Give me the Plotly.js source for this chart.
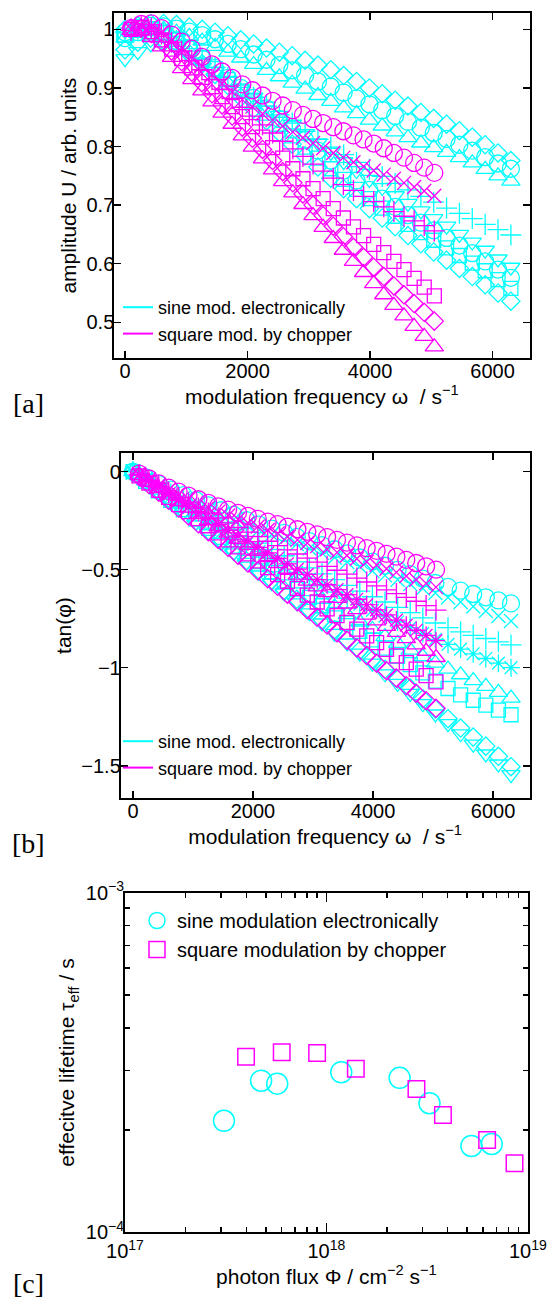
<!DOCTYPE html>
<html>
<head>
<meta charset="utf-8">
<script src="https://cdn.plot.ly/plotly-3.0.1.min.js"></script>
<style>html,body{margin:0;padding:0;background:#fff;}#chart{width:547px;height:1298px;}</style>
</head>
<body>
<div id="chart"></div>
<script>
// ---------- data ----------
const freqSine = [0,210,420,630,840,1050,1260,1470,1680,1890,2100,2310,2520,2730,2940,3150,3360,3570,3780,3990,4200,4410,4620,4830,5040,5250,5460,5670,5880,6090,6300];
const freqSquare = [100,265,430,595,760,925,1090,1255,1420,1585,1750,1915,2080,2245,2410,2575,2740,2905,3070,3235,3400,3565,3730,3895,4060,4225,4390,4555,4720,4885,5050];

// panel [a] amplitude, sine modulation (electronically)
const ampSineDiamondTop = [1.000,1.006,1.010,1.010,1.008,1.004,1.000,0.995,0.989,0.982,0.975,0.968,0.961,0.955,0.947,0.939,0.931,0.921,0.911,0.900,0.890,0.879,0.869,0.858,0.848,0.838,0.827,0.816,0.803,0.789,0.776];
const ampSineTriUp = [0.985,0.993,0.999,1.000,0.995,0.988,0.980,0.971,0.961,0.951,0.940,0.930,0.919,0.908,0.898,0.887,0.877,0.866,0.856,0.845,0.835,0.825,0.815,0.806,0.798,0.790,0.781,0.772,0.761,0.750,0.741];
const ampSineCircleTop = [0.995,1.002,1.006,1.005,1.001,0.996,0.990,0.983,0.975,0.966,0.957,0.948,0.939,0.930,0.921,0.911,0.902,0.892,0.882,0.872,0.862,0.852,0.842,0.832,0.823,0.813,0.803,0.793,0.782,0.771,0.762];
const ampSineTriDown = [0.950,0.962,0.975,0.975,0.968,0.956,0.942,0.928,0.913,0.898,0.884,0.869,0.853,0.838,0.822,0.806,0.790,0.774,0.759,0.744,0.730,0.716,0.703,0.690,0.677,0.664,0.650,0.637,0.623,0.608,0.594];
const ampSineSquare = [0.990,0.998,1.001,0.995,0.983,0.968,0.951,0.933,0.914,0.895,0.876,0.857,0.838,0.818,0.799,0.780,0.762,0.744,0.727,0.711,0.695,0.681,0.667,0.653,0.640,0.627,0.614,0.601,0.588,0.573,0.558];
const ampSineCircleMid = [0.985,0.995,0.998,0.992,0.980,0.966,0.950,0.934,0.917,0.900,0.883,0.865,0.847,0.829,0.811,0.793,0.776,0.759,0.742,0.726,0.711,0.697,0.683,0.670,0.657,0.644,0.631,0.618,0.604,0.590,0.576];
const ampSineDiamondMid = [0.965,0.978,0.985,0.982,0.972,0.958,0.941,0.923,0.904,0.884,0.864,0.844,0.824,0.804,0.784,0.765,0.746,0.728,0.711,0.694,0.678,0.663,0.648,0.634,0.620,0.606,0.592,0.578,0.564,0.550,0.536];
const ampSinePlus = [0.995,1.000,1.000,0.993,0.981,0.967,0.951,0.935,0.918,0.901,0.884,0.869,0.854,0.840,0.826,0.812,0.799,0.786,0.773,0.761,0.749,0.737,0.726,0.715,0.705,0.695,0.686,0.677,0.667,0.658,0.649];

// panel [a] amplitude, square modulation (chopper)
const ampSquareCircle = [1.002,1.009,1.010,1.002,0.991,0.979,0.967,0.953,0.940,0.928,0.917,0.906,0.896,0.887,0.878,0.870,0.862,0.854,0.847,0.840,0.833,0.826,0.819,0.812,0.805,0.797,0.789,0.781,0.772,0.764,0.755];
const ampSquareX = [1.000,1.006,1.005,0.995,0.982,0.968,0.953,0.938,0.922,0.907,0.893,0.880,0.868,0.856,0.845,0.835,0.825,0.815,0.806,0.797,0.789,0.781,0.773,0.766,0.759,0.752,0.745,0.738,0.731,0.724,0.716];
const ampSquarePlus = [0.998,1.004,1.002,0.992,0.978,0.963,0.947,0.931,0.914,0.898,0.882,0.867,0.852,0.837,0.823,0.809,0.796,0.783,0.770,0.758,0.746,0.735,0.725,0.715,0.706,0.697,0.689,0.681,0.673,0.665,0.656];
const ampSquareSquare = [1.000,1.003,0.996,0.982,0.966,0.950,0.934,0.918,0.902,0.885,0.868,0.851,0.834,0.816,0.798,0.780,0.762,0.745,0.728,0.711,0.694,0.678,0.663,0.648,0.633,0.619,0.604,0.590,0.575,0.560,0.545];
const ampSquareTriangle = [0.998,0.997,0.986,0.970,0.952,0.933,0.914,0.895,0.876,0.857,0.838,0.818,0.799,0.779,0.760,0.740,0.721,0.701,0.682,0.662,0.643,0.623,0.604,0.585,0.566,0.547,0.529,0.511,0.493,0.476,0.458];
const ampSquareDiamond = [1.002,1.002,0.993,0.979,0.963,0.945,0.927,0.909,0.890,0.871,0.852,0.833,0.814,0.795,0.776,0.757,0.738,0.719,0.700,0.682,0.664,0.646,0.628,0.611,0.594,0.578,0.562,0.547,0.532,0.517,0.502];

// panel [b] tan(phi), sine modulation
const phaseSineCircle = [0.000,-0.030,-0.062,-0.092,-0.120,-0.146,-0.172,-0.197,-0.221,-0.247,-0.270,-0.291,-0.312,-0.333,-0.354,-0.375,-0.396,-0.417,-0.438,-0.459,-0.480,-0.501,-0.523,-0.546,-0.568,-0.588,-0.607,-0.624,-0.641,-0.657,-0.672];
const phaseSineX = [-0.005,-0.038,-0.072,-0.104,-0.134,-0.163,-0.191,-0.218,-0.244,-0.270,-0.297,-0.321,-0.345,-0.369,-0.392,-0.415,-0.438,-0.461,-0.484,-0.507,-0.529,-0.551,-0.573,-0.596,-0.619,-0.642,-0.665,-0.688,-0.711,-0.736,-0.762];
const phaseSinePlus = [0.000,-0.040,-0.078,-0.115,-0.150,-0.188,-0.224,-0.259,-0.294,-0.330,-0.365,-0.397,-0.429,-0.460,-0.491,-0.521,-0.551,-0.580,-0.609,-0.638,-0.665,-0.692,-0.719,-0.746,-0.772,-0.796,-0.817,-0.835,-0.851,-0.868,-0.884];
const phaseSineStar = [0.000,-0.043,-0.086,-0.128,-0.170,-0.210,-0.250,-0.290,-0.330,-0.369,-0.407,-0.443,-0.479,-0.514,-0.549,-0.583,-0.615,-0.646,-0.677,-0.708,-0.737,-0.767,-0.796,-0.825,-0.855,-0.881,-0.905,-0.929,-0.953,-0.977,-1.000];
const phaseSineTriUp = [0.000,-0.047,-0.094,-0.140,-0.186,-0.231,-0.276,-0.320,-0.364,-0.407,-0.450,-0.491,-0.532,-0.572,-0.612,-0.651,-0.690,-0.729,-0.767,-0.805,-0.841,-0.876,-0.910,-0.944,-0.977,-1.007,-1.036,-1.066,-1.095,-1.126,-1.155];
const phaseSineSquare = [0.000,-0.049,-0.098,-0.146,-0.194,-0.242,-0.289,-0.335,-0.380,-0.426,-0.471,-0.514,-0.557,-0.599,-0.641,-0.684,-0.728,-0.772,-0.815,-0.858,-0.900,-0.942,-0.984,-1.026,-1.068,-1.106,-1.139,-1.166,-1.191,-1.216,-1.240];
const phaseSineDiamond = [0.000,-0.050,-0.101,-0.151,-0.199,-0.252,-0.302,-0.356,-0.403,-0.454,-0.504,-0.554,-0.605,-0.651,-0.706,-0.756,-0.806,-0.857,-0.911,-0.958,-1.008,-1.058,-1.104,-1.159,-1.210,-1.260,-1.308,-1.354,-1.400,-1.452,-1.505];
const phaseSineTriDown = [-0.015,-0.055,-0.104,-0.155,-0.206,-0.259,-0.309,-0.360,-0.414,-0.463,-0.515,-0.566,-0.619,-0.669,-0.720,-0.772,-0.825,-0.874,-0.926,-0.977,-1.031,-1.080,-1.131,-1.183,-1.236,-1.285,-1.337,-1.390,-1.440,-1.491,-1.545];

// panel [b] tan(phi), square modulation
const phaseSquareCircle = [-0.010,-0.035,-0.060,-0.082,-0.102,-0.122,-0.141,-0.159,-0.177,-0.194,-0.210,-0.226,-0.241,-0.255,-0.268,-0.281,-0.294,-0.307,-0.320,-0.334,-0.348,-0.362,-0.376,-0.390,-0.404,-0.419,-0.434,-0.450,-0.466,-0.483,-0.500];
const phaseSquareX = [-0.012,-0.040,-0.068,-0.093,-0.117,-0.140,-0.162,-0.183,-0.204,-0.224,-0.243,-0.262,-0.280,-0.298,-0.315,-0.332,-0.348,-0.364,-0.380,-0.396,-0.412,-0.428,-0.444,-0.460,-0.476,-0.495,-0.514,-0.532,-0.551,-0.570,-0.589];
const phaseSquarePlus = [-0.015,-0.045,-0.075,-0.104,-0.132,-0.159,-0.185,-0.211,-0.236,-0.261,-0.285,-0.309,-0.332,-0.355,-0.377,-0.399,-0.420,-0.441,-0.462,-0.483,-0.503,-0.523,-0.543,-0.563,-0.583,-0.603,-0.622,-0.641,-0.661,-0.683,-0.706];
const phaseSquareStar = [-0.018,-0.050,-0.083,-0.115,-0.147,-0.178,-0.208,-0.239,-0.269,-0.299,-0.328,-0.357,-0.386,-0.414,-0.442,-0.470,-0.497,-0.524,-0.551,-0.577,-0.602,-0.627,-0.651,-0.678,-0.705,-0.731,-0.757,-0.783,-0.809,-0.835,-0.862];
const phaseSquareTriangle = [-0.020,-0.053,-0.087,-0.120,-0.153,-0.186,-0.218,-0.250,-0.282,-0.314,-0.345,-0.376,-0.407,-0.438,-0.468,-0.498,-0.528,-0.558,-0.588,-0.617,-0.646,-0.675,-0.704,-0.732,-0.761,-0.789,-0.820,-0.852,-0.884,-0.916,-0.948];
const phaseSquareSquare = [-0.022,-0.058,-0.095,-0.131,-0.168,-0.204,-0.240,-0.276,-0.312,-0.348,-0.384,-0.419,-0.455,-0.490,-0.525,-0.560,-0.595,-0.630,-0.665,-0.700,-0.734,-0.769,-0.803,-0.838,-0.872,-0.906,-0.940,-0.974,-1.007,-1.040,-1.072];
const phaseSquareDiamond = [-0.025,-0.065,-0.105,-0.146,-0.186,-0.226,-0.266,-0.306,-0.346,-0.386,-0.426,-0.466,-0.506,-0.546,-0.585,-0.625,-0.664,-0.704,-0.743,-0.782,-0.821,-0.860,-0.899,-0.938,-0.977,-1.015,-1.053,-1.092,-1.130,-1.168,-1.207];

// panel [c] effective lifetime vs photon flux
const fluxSine = [3.1e17, 4.74e17, 5.7e17, 1.185e18, 2.31e18, 3.25e18, 5.25e18, 6.62e18];
const tauSine = [2.13e-4, 2.795e-4, 2.74e-4, 2.96e-4, 2.85e-4, 2.40e-4, 1.796e-4, 1.82e-4];
const fluxSquare = [3.99e17, 6.0e17, 8.99e17, 1.40e18, 2.80e18, 3.79e18, 6.28e18, 8.59e18];
const tauSquare = [3.29e-4, 3.39e-4, 3.37e-4, 3.03e-4, 2.64e-4, 2.215e-4, 1.87e-4, 1.596e-4];

const tickFreq = [0, 2000, 4000, 6000];
const tickAmp = [0.5, 0.6, 0.7, 0.8, 0.9, 1];
const tickAmpText = ['0.5', '0.6', '0.7', '0.8', '0.9', '1'];
const tickPhase = [-1.5, -1, -0.5, 0];
const tickPhaseText = ['\u22121.5', '\u22121', '\u22120.5', '0'];
const tickFlux = [1e17, 1e18, 1e19];
const tickFluxText = ['10<sup>17</sup>', '10<sup>18</sup>', '10<sup>19</sup>'];
const minorFlux = [2e17,3e17,4e17,5e17,6e17,7e17,8e17,9e17,2e18,3e18,4e18,5e18,6e18,7e18,8e18,9e18];
const tickTau = [1e-4, 1e-3];
const tickTauText = ['10<sup>\u22124</sup>', '10<sup>\u22123</sup>'];
const minorTau = [2e-4,3e-4,4e-4,5e-4,6e-4,7e-4,8e-4,9e-4];

const legendSine = 'sine mod. electronically';
const legendSquare = 'square mod. by chopper';

// ---------- styling ----------
const CYAN = '#00FFFF';
const MAG = '#FF00FF';
const FONT = 'Liberation Sans, Arial, Helvetica, sans-serif';
const SZ = {circle: 17, diamond: 14, tri: 16, square: 14, cross: 15, x: 14, star: 15};

function pts(x, y, symbol, color, size, xa, ya) {
  return {type: 'scatter', mode: 'markers', x: x, y: y, xaxis: xa, yaxis: ya,
    showlegend: false, hoverinfo: 'skip',
    marker: {symbol: symbol, size: size, color: color, line: {color: color, width: 1.3}}};
}
function legLine(name, color, xa, ya, leg) {
  return {type: 'scatter', mode: 'lines', x: [null], y: [null], xaxis: xa, yaxis: ya,
    name: name, legend: leg, hoverinfo: 'skip', line: {color: color, width: 2}};
}

const traces = [
  // [a] sine
  pts(freqSine, ampSineDiamondTop, 'diamond-open', CYAN, SZ.diamond, 'x', 'y'),
  pts(freqSine, ampSineTriUp, 'triangle-up-open', CYAN, SZ.tri, 'x', 'y'),
  pts(freqSine, ampSineCircleTop, 'circle-open', CYAN, SZ.circle, 'x', 'y'),
  pts(freqSine, ampSineTriDown, 'triangle-down-open', CYAN, SZ.tri, 'x', 'y'),
  pts(freqSine, ampSineSquare, 'square-open', CYAN, SZ.square, 'x', 'y'),
  pts(freqSine, ampSineCircleMid, 'circle-open', CYAN, SZ.circle, 'x', 'y'),
  pts(freqSine, ampSineDiamondMid, 'diamond-open', CYAN, SZ.diamond, 'x', 'y'),
  pts(freqSine, ampSinePlus, 'cross-thin-open', CYAN, SZ.cross, 'x', 'y'),
  // [a] square
  pts(freqSquare, ampSquareCircle, 'circle-open', MAG, SZ.circle, 'x', 'y'),
  pts(freqSquare, ampSquareX, 'x-thin-open', MAG, SZ.x, 'x', 'y'),
  pts(freqSquare, ampSquarePlus, 'cross-thin-open', MAG, SZ.cross, 'x', 'y'),
  pts(freqSquare, ampSquareSquare, 'square-open', MAG, SZ.square, 'x', 'y'),
  pts(freqSquare, ampSquareTriangle, 'triangle-up-open', MAG, SZ.tri, 'x', 'y'),
  pts(freqSquare, ampSquareDiamond, 'diamond-open', MAG, SZ.diamond, 'x', 'y'),
  legLine(legendSine, CYAN, 'x', 'y', 'legend'),
  legLine(legendSquare, MAG, 'x', 'y', 'legend'),
  // [b] sine
  pts(freqSine, phaseSineCircle, 'circle-open', CYAN, SZ.circle, 'x2', 'y2'),
  pts(freqSine, phaseSineX, 'x-thin-open', CYAN, SZ.x, 'x2', 'y2'),
  pts(freqSine, phaseSinePlus, 'cross-thin-open', CYAN, SZ.cross, 'x2', 'y2'),
  pts(freqSine, phaseSineStar, 'asterisk-open', CYAN, SZ.star, 'x2', 'y2'),
  pts(freqSine, phaseSineTriUp, 'triangle-up-open', CYAN, SZ.tri, 'x2', 'y2'),
  pts(freqSine, phaseSineSquare, 'square-open', CYAN, SZ.square, 'x2', 'y2'),
  pts(freqSine, phaseSineDiamond, 'diamond-open', CYAN, SZ.diamond, 'x2', 'y2'),
  pts(freqSine, phaseSineTriDown, 'triangle-down-open', CYAN, SZ.tri, 'x2', 'y2'),
  // [b] square
  pts(freqSquare, phaseSquareCircle, 'circle-open', MAG, SZ.circle, 'x2', 'y2'),
  pts(freqSquare, phaseSquareX, 'x-thin-open', MAG, SZ.x, 'x2', 'y2'),
  pts(freqSquare, phaseSquarePlus, 'cross-thin-open', MAG, SZ.cross, 'x2', 'y2'),
  pts(freqSquare, phaseSquareStar, 'asterisk-open', MAG, SZ.star, 'x2', 'y2'),
  pts(freqSquare, phaseSquareTriangle, 'triangle-up-open', MAG, SZ.tri, 'x2', 'y2'),
  pts(freqSquare, phaseSquareSquare, 'square-open', MAG, SZ.square, 'x2', 'y2'),
  pts(freqSquare, phaseSquareDiamond, 'diamond-open', MAG, SZ.diamond, 'x2', 'y2'),
  legLine(legendSine, CYAN, 'x2', 'y2', 'legend2'),
  legLine(legendSquare, MAG, 'x2', 'y2', 'legend2'),
  // [c]
  {type: 'scatter', mode: 'markers', x: fluxSine, y: tauSine, xaxis: 'x3', yaxis: 'y3',
   name: 'sine modulation electronically', legend: 'legend3', hoverinfo: 'skip',
   marker: {symbol: 'circle-open', size: 21, color: CYAN, line: {color: CYAN, width: 1.5}}},
  {type: 'scatter', mode: 'markers', x: fluxSquare, y: tauSquare, xaxis: 'x3', yaxis: 'y3',
   name: 'square modulation by chopper', legend: 'legend3', hoverinfo: 'skip',
   marker: {symbol: 'square-open', size: 16.5, color: MAG, line: {color: MAG, width: 1.5}}}
];

const W = 547, H = 1298;
const px = v => v / W;
const py = v => 1 - v / H;

function axisBase() {
  return {showline: true, linewidth: 2, linecolor: '#000', mirror: 'ticks',
    ticks: 'inside', ticklen: 7, tickwidth: 1.5, tickcolor: '#000',
    showgrid: false, zeroline: false, tickfont: {size: 20, color: '#000', family: FONT},
    fixedrange: true};
}

const layout = {
  width: W, height: H,
  margin: {l: 0, r: 0, t: 0, b: 0},
  paper_bgcolor: '#fff', plot_bgcolor: '#fff',
  font: {family: FONT, size: 20, color: '#000'},
  xaxis: Object.assign(axisBase(), {domain: [px(114.3), px(529.5)], range: [-175, 6604], anchor: 'y',
    tickmode: 'array', tickvals: tickFreq, ticklabelstandoff: -6,
    title: {text: 'modulation frequency \u03c9\u00a0\u00a0/ s<sup>\u22121</sup>', font: {size: 21}, standoff: 4}}),
  yaxis: Object.assign(axisBase(), {domain: [py(358.3), py(13)], range: [0.4386, 1.0278], anchor: 'x',
    tickmode: 'array', tickvals: tickAmp, ticktext: tickAmpText, ticklabelstandoff: -6,
    title: {text: 'amplitude U / arb. units', font: {size: 21}, standoff: 4}}),
  xaxis2: Object.assign(axisBase(), {domain: [px(120.75), px(529.5)], range: [-204, 6608], anchor: 'y2',
    tickmode: 'array', tickvals: tickFreq, ticklabelstandoff: -6,
    title: {text: 'modulation frequency \u03c9\u00a0\u00a0/ s<sup>\u22121</sup>', font: {size: 21}, standoff: 4}}),
  yaxis2: Object.assign(axisBase(), {domain: [py(798.3), py(452.8)], range: [-1.666, 0.096], anchor: 'x2',
    tickmode: 'array', tickvals: tickPhase, ticktext: tickPhaseText, ticklabelstandoff: -6,
    title: {text: 'tan(\u03c6)', font: {size: 21}, standoff: 4}}),
  xaxis3: Object.assign(axisBase(), {domain: [px(125), px(527.8)], type: 'log', range: [17, 19], anchor: 'y3',
    tickmode: 'array', tickvals: tickFlux, ticktext: tickFluxText, ticklen: 9,
    minor: {tickvals: minorFlux, ticks: 'inside', ticklen: 5, tickwidth: 1.5, tickcolor: '#000'},
    title: {text: 'photon flux \u03a6 / cm<sup>\u22122</sup> s<sup>\u22121</sup>', font: {size: 21}, standoff: 4}}),
  yaxis3: Object.assign(axisBase(), {domain: [py(1232.3), py(892.7)], type: 'log', range: [-4, -3], anchor: 'x3',
    tickmode: 'array', tickvals: tickTau, ticktext: tickTauText, ticklen: 9, ticklabelstandoff: -5,
    minor: {tickvals: minorTau, ticks: 'inside', ticklen: 5, tickwidth: 1.5, tickcolor: '#000'},
    title: {text: 'effecitve lifetime \u03c4<sub>eff</sub> / s', font: {size: 21}, standoff: 5}}),
  legend: {x: px(118), y: py(289), xanchor: 'left', yanchor: 'top', bgcolor: 'rgba(0,0,0,0)',
    borderwidth: 0, font: {size: 18, color: '#000'}},
  legend2: {x: px(118), y: py(723), xanchor: 'left', yanchor: 'top', bgcolor: 'rgba(0,0,0,0)',
    borderwidth: 0, font: {size: 18, color: '#000'}},
  legend3: {x: px(137), y: py(901), xanchor: 'left', yanchor: 'top', bgcolor: 'rgba(0,0,0,0)',
    borderwidth: 0, font: {size: 20, color: '#000'}},
  annotations: [
    {text: '[a]', xref: 'paper', yref: 'paper', x: px(28), y: py(403), showarrow: false,
     xanchor: 'center', yanchor: 'middle', font: {family: 'Liberation Serif, DejaVu Serif, serif', size: 28, color: '#000'}},
    {text: '[b]', xref: 'paper', yref: 'paper', x: px(28), y: py(843), showarrow: false,
     xanchor: 'center', yanchor: 'middle', font: {family: 'Liberation Serif, DejaVu Serif, serif', size: 28, color: '#000'}},
    {text: '[c]', xref: 'paper', yref: 'paper', x: px(28), y: py(1283), showarrow: false,
     xanchor: 'center', yanchor: 'middle', font: {family: 'Liberation Serif, DejaVu Serif, serif', size: 28, color: '#000'}}
  ]
};

Plotly.newPlot('chart', traces, layout, {displayModeBar: false, staticPlot: true});
</script>
</body>
</html>
